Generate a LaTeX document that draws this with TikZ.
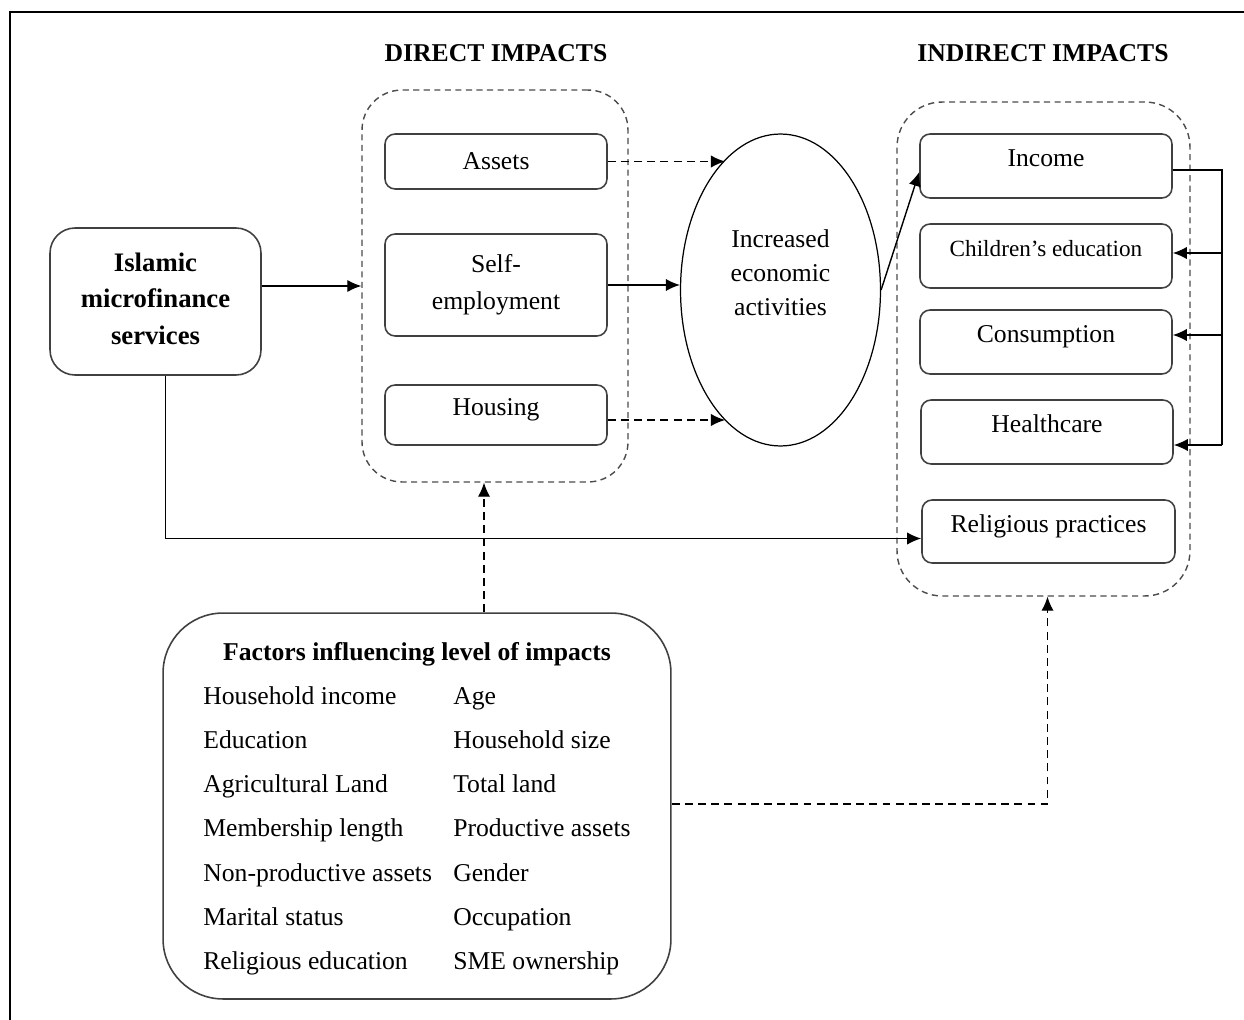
\documentclass[tikz,border=0pt]{standalone}
\usepackage{fontspec}
\setmainfont{Liberation Serif}
\usetikzlibrary{shapes.geometric,arrows.meta,calc}
\begin{document}
\begin{tikzpicture}[x=0.02cm,y=-0.02cm,
  every node/.style={font=\fontsize{14.6}{19.5}\selectfont, inner sep=0pt, align=center},
  box/.style={draw=black!75, line width=0.9pt, rounded corners=0.2cm, rectangle},
  ibox/.style={box, minimum width=5.04cm, minimum height=1.28cm, text height=10pt, text depth=9pt},
  dbox/.style={box, minimum width=4.44cm},
  cont/.style={draw=black!70, line width=0.8pt, dash pattern=on 3.5pt off 2.5pt, rectangle},
  arr/.style={line width=0.8pt, -{Latex[length=8pt,width=7pt]}},
  darr/.style={arr, dash pattern=on 4.5pt off 3pt},
  ttl/.style={font=\fontsize{14.6}{19.5}\selectfont\bfseries}
]
\useasboundingbox (0,0) rectangle (1244,1020);
\draw[line width=1.5pt] (10,1020) -- (10,12) -- (1244,12);

\node[ttl] (dtitle) at (496,53) {DIRECT IMPACTS};
\node[ttl] (ititle) at (1043,53) {INDIRECT IMPACTS};

\node[box, rounded corners=0.5cm, minimum width=4.22cm, minimum height=2.94cm,
  text depth=3.5pt, font=\fontsize{15.2}{20.8}\selectfont\bfseries] (isl) at (155.5,301.5)
  {Islamic\\microfinance\\services};

\node[cont, rounded corners=0.8cm, minimum width=5.32cm, minimum height=7.84cm] (dir) at (495,286) {};
\node[dbox, minimum height=1.1cm] (as) at (496,161.5) {Assets};
\node[dbox, minimum height=2.04cm, font=\fontsize{14.6}{21}\selectfont] (se) at (496,285) {Self-\\employment};
\node[dbox, minimum height=1.2cm, text height=10pt, text depth=9pt] (ho) at (496,415) {Housing};

\node[ellipse, draw=black, line width=0.7pt, minimum width=4.0cm, minimum height=6.24cm,
  text depth=20pt, font=\fontsize{14.6}{19.3}\selectfont] (ell) at (780.5,290) {Increased\\economic\\activities};

\node[cont, rounded corners=0.9cm, minimum width=5.86cm, minimum height=9.88cm] (ind) at (1043.5,349) {};
\node[ibox] (inc) at (1046,166) {Income};
\node[ibox, font=\fontsize{13.2}{16}\selectfont] (ch) at (1046,256) {Children’s education};
\node[ibox] (co) at (1046,342) {Consumption};
\node[ibox] (hc) at (1047,432) {Healthcare};
\node[ibox, minimum width=5.06cm, minimum height=1.26cm] (rel) at (1048.5,531.5) {Religious practices};

\node[box, rounded corners=1.2cm, minimum width=10.16cm, minimum height=7.72cm] (fac) at (417,806)
{\def\arraystretch{1.29}\begin{tabular}{@{}p{5cm}@{}l@{}}
\multicolumn{2}{c}{\bfseries Factors influencing level of impacts}\\
Household income & Age\\
Education & Household size\\
Agricultural Land & Total land\\
Membership length & Productive assets\\
Non-productive assets & Gender\\
Marital status & Occupation\\
Religious education & SME ownership
\end{tabular}};

% connectors
\draw[arr] (dir.west -| isl.east) -- (dir.west);
\draw[arr] ($(isl.south)+(10,0)$) |- ($(rel.west)+(0,7)$);
\draw[darr] (as.east) -- (as.east -| ell.113.5);
\draw[arr] (se.east) -- (se.east -| ell.west);
\draw[darr] ($(ho.east)+(0,5)$) -- ($(ho.east -| ell.247.5)+(0,5)$);
\draw[arr] (ell.east) -- ($(inc.west)+(0,6)$);

\coordinate (tr) at (1222,0);
\draw[line width=0.8pt] ($(inc.east)+(0,4)$) -| ($(tr |- hc.east)+(0,13)$);
\draw[arr] ($(tr |- ch.east)+(0,-3)$) -- ($(ch.east)+(0,-3)$);
\draw[arr] ($(tr |- co.east)+(0,-7)$) -- ($(co.east)+(0,-7)$);
\draw[arr] ($(tr |- hc.east)+(0,13)$) -- ($(hc.east)+(0,13)$);

\coordinate (fx) at (484,0);
\draw[darr] (fac.north -| fx) -- (dir.south -| fx);
\draw[darr] ($(fac.east)+(0,-2)$) -| ($(ind.south)+(4,0)$);
\end{tikzpicture}
\end{document}
